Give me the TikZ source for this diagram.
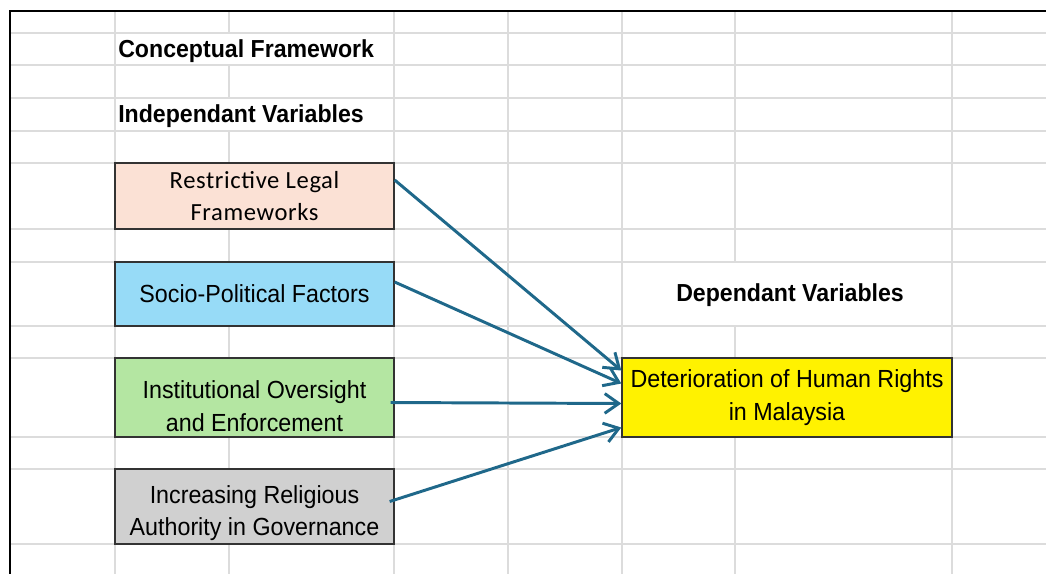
\documentclass[tikz,border=0pt]{standalone}
\usepackage{fontspec}
\setmainfont{Liberation Sans}
\newfontfamily\sheetfont[FakeStretch=0.94]{Liberation Sans}
\newfontfamily\calfont[LetterSpace=2.5]{Carlito}
\usetikzlibrary{positioning,calc,arrows.meta}
\definecolor{gridgrey}{RGB}{220,220,220}
\definecolor{arrowteal}{RGB}{31,104,138}
\definecolor{peach}{RGB}{251,225,213}
\definecolor{sky}{RGB}{151,219,247}
\definecolor{leaf}{RGB}{180,230,162}
\definecolor{ash}{RGB}{208,208,208}
\tikzset{
    sheet/.style={x=0.025cm, y=-0.025cm},
    % thin grey lines of the spreadsheet
    cellline/.style={draw=gridgrey, line width=0.8pt},
    % bold headings typed into the cells
    heading/.style={anchor=base west, inner sep=0pt,
                    font=\sheetfont\bfseries\fontsize{17.5}{21}\selectfont},
    % boxes for the variables
    varbox/.style={draw=black!80, line width=0.9pt, rectangle, align=center,
                   inner sep=0pt,
                   font=\sheetfont\fontsize{17.6}{23}\selectfont},
    indep/.style={varbox, minimum width=6.975cm},
    % arrows towards the dependant variable
    link/.style={draw=arrowteal, line width=2.1pt,
                 -{Straight Barb[length=10pt,width=14pt]}}
}
\begin{document}
\begin{tikzpicture}[sheet]
    \useasboundingbox (0,0) rectangle (1046,574);
    % grid of the sheet
    \foreach \gy in {33,65,98,131,163,229,262,326,358,437,469,544}
        \draw[cellline] (10,\gy) -- (1046,\gy);
    \foreach \gx in {115,229,394,508,622,735,952}
        \draw[cellline] (\gx,11) -- (\gx,574);
    % merged cells
    \fill[white] (116,34) rectangle (393,64);
    \fill[white] (116,99) rectangle (393,130);
    \fill[white] (623,263) rectangle (951,325);
    % frame
    \draw[line width=1.5pt] (1046,11) -- (10,11) -- (10,574);

    \node[heading] (title) at (118,57) {Conceptual Framework};
    \node[heading] (indhead) at (118,122) {Independant Variables};
    \node[heading] (dephead) at (676,301) {Dependant Variables};

    \node[indep, fill=peach, minimum height=1.65cm,
          font=\calfont\fontsize{17.5}{22.5}\selectfont]
        (rest) at (254.5,196) {Restrictive Legal\\Frameworks};
    \node[indep, fill=sky, minimum height=1.6cm]
        (socio) at (254.5,294) {Socio-Political Factors};
    \node[indep, fill=leaf, minimum height=1.975cm]
        (inst) at (254.5,397.5) {\rule{0pt}{25pt}Institutional Oversight\\and Enforcement};
    \node[indep, fill=ash, minimum height=1.875cm]
        (relig) at (254.5,506.5) {\rule{0pt}{22pt}Increasing Religious\\Authority in Governance};
    \node[varbox, fill=yellow, minimum width=8.25cm, minimum height=1.975cm]
        (dete) at (787,397.5) {Deterioration of Human Rights\\in Malaysia};

    \draw[link] ($(rest.east)+(0,-16)$) -- ($(dete.west)+(0,-27)$);
    \draw[link] ($(socio.east)+(0,-12)$) -- ($(dete.west)+(0,-14)$);
    \draw[link] ($(inst.east)+(-4,5)$) -- ($(dete.west)+(0,6)$);
    \draw[link] ($(relig.east)+(-5,-5)$) -- ($(dete.west)+(0,30)$);
\end{tikzpicture}
\end{document}
